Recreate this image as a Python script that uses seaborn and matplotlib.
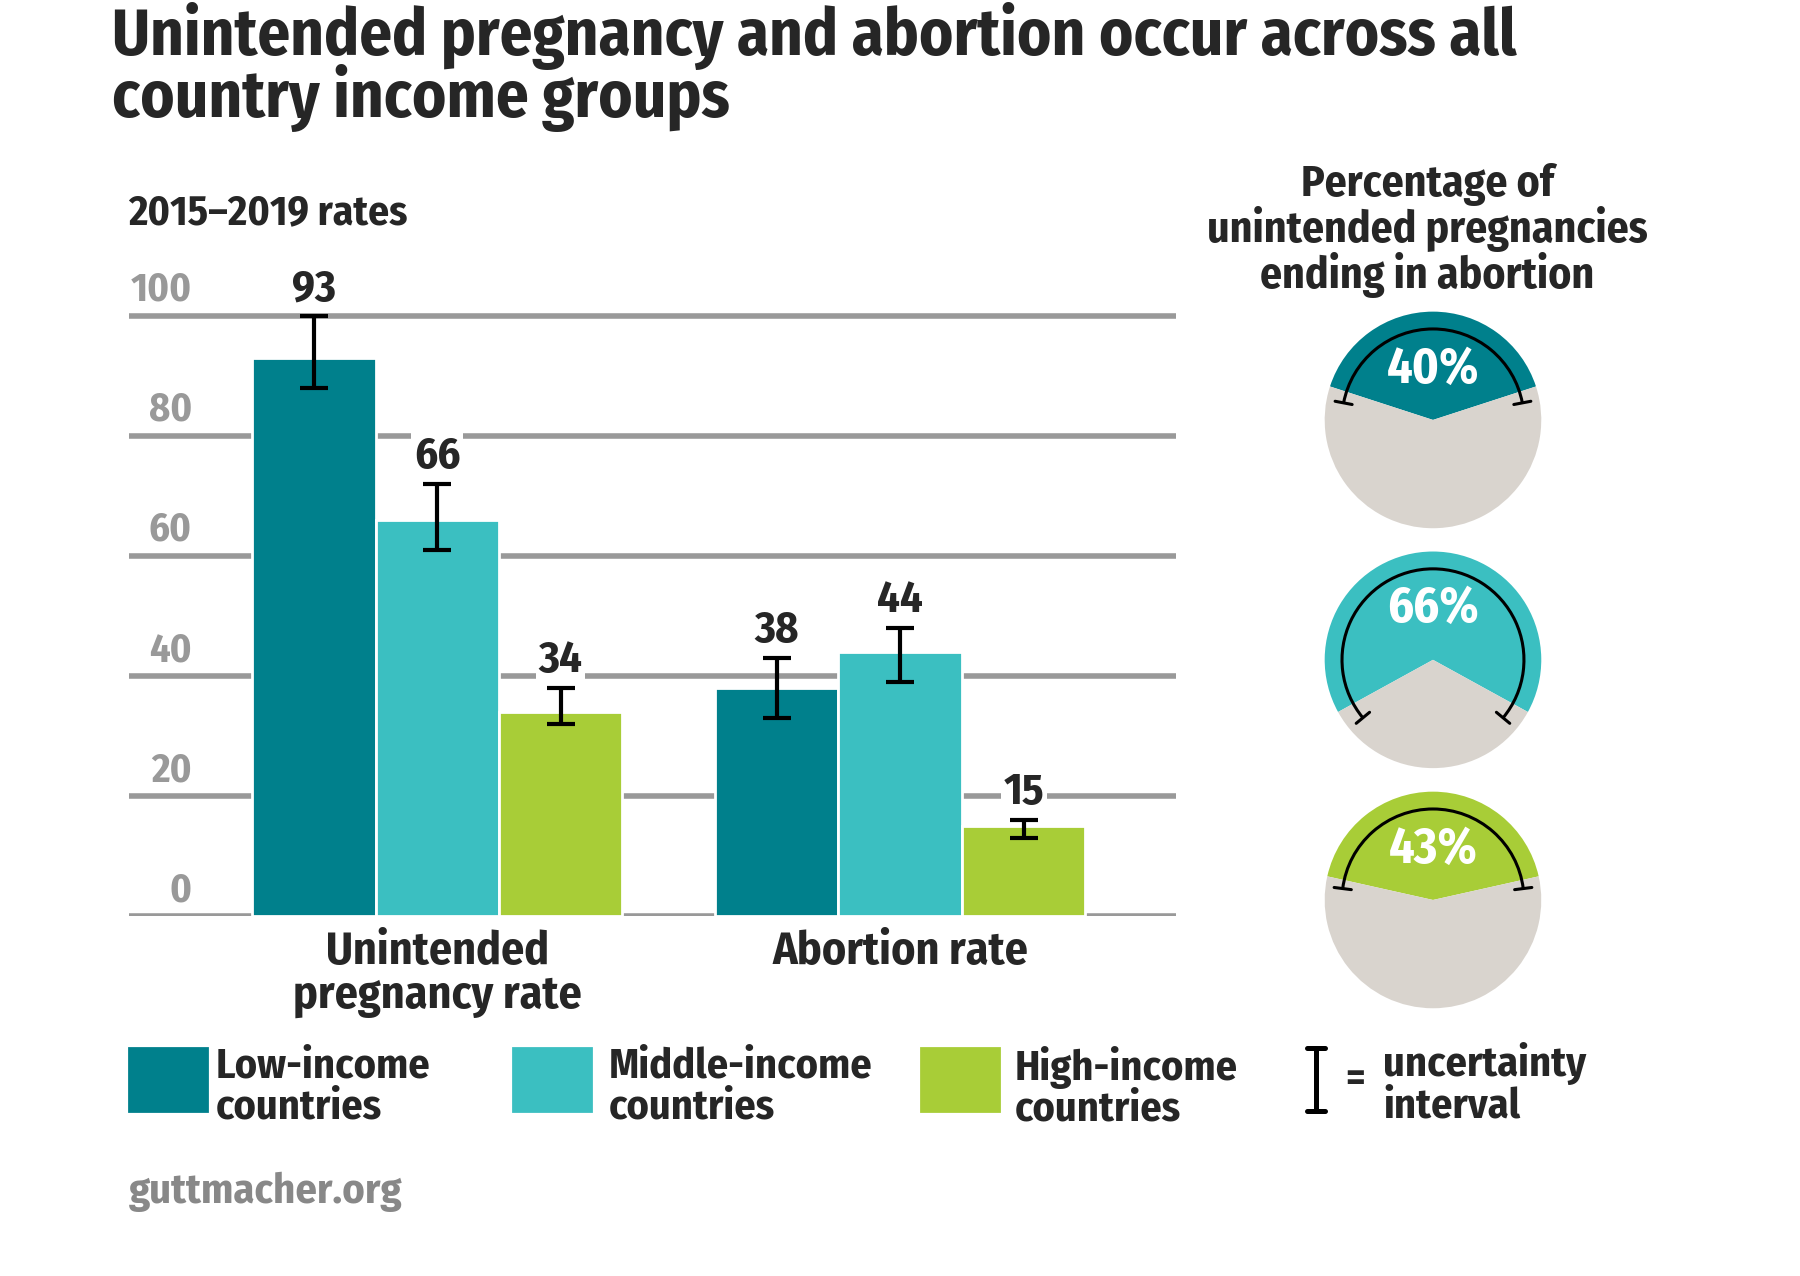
import numpy as np
import pandas as pd
import matplotlib
matplotlib.use('Agg')
import matplotlib.pyplot as plt
import seaborn as sns
from matplotlib.patches import Rectangle, Arc
from matplotlib.lines import Line2D

# data
measures = ['Unintended\npregnancy rate', 'Abortion rate']
groups = ['Low-income countries', 'Middle-income countries', 'High-income countries']
legend_labels = ['Low-income\ncountries', 'Middle-income\ncountries', 'High-income\ncountries']
unintended_rate = [93, 66, 34]
unintended_lo = [88, 61, 32]
unintended_hi = [100, 72, 38]
abortion_rate = [38, 44, 15]
abortion_lo = [33, 39, 13]
abortion_hi = [43, 48, 16]
pct_abortion = [40, 66, 43]
pct_ui_hi = [44, 72, 46]
y_ticks = [0, 20, 40, 60, 80, 100]

colors = ['#00808c', '#3bbfc1', '#a8cd37']
pie_bg = '#d9d4ce'
grid_c = '#999999'

df = pd.DataFrame({
    'measure': [m for m in measures for _ in groups],
    'group': groups * 2,
    'rate': unintended_rate + abortion_rate,
    'lo': unintended_lo + abortion_lo,
    'hi': unintended_hi + abortion_hi,
})

sns.set_style('white')
plt.rcParams['font.family'] = ['Fira Sans Condensed', 'DejaVu Sans']
plt.rcParams['font.weight'] = 'bold'

fig = plt.figure(figsize=(9, 6.38), dpi=200)
ax = fig.add_axes([0.0714, 0.2821, 0.5817, 0.5173])

sns.barplot(data=df, x='measure', y='rate', hue='group', hue_order=groups,
            palette=colors, saturation=1, errorbar=None, legend=False,
            width=0.8, edgecolor='white', linewidth=1, zorder=2, ax=ax)
bar_conts = list(ax.containers)

for v in y_ticks:
    ax.axhline(v, color=grid_c, lw=2, zorder=1)
    ax.text(-0.53, v + 2.5, str(v), ha='right', va='baseline',
            color=grid_c, fontsize=14.5, fontweight='bold')

# error bars + value labels
for i, cont in enumerate(bar_conts):
    for j, bar in enumerate(cont):
        row = df[(df['group'] == groups[i]) & (df['measure'] == measures[j])].iloc[0]
        x = bar.get_x() + bar.get_width() / 2
        ax.errorbar(x, row['rate'], yerr=[[row['rate'] - row['lo']], [row['hi'] - row['rate']]],
                    color='black', lw=1.5, capsize=5, capthick=1.5, zorder=3)
        ax.text(x, row['hi'] + 1, str(row['rate']), ha='center', va='bottom',
                fontsize=16, fontweight='bold', zorder=4,
                bbox=dict(fc='white', ec='none', pad=1))

ax.set_xlim(-0.667, 1.595)
ax.set_ylim(0, 110)
ax.set_yticks([])
ax.set_xlabel('')
ax.set_ylabel('')
ax.tick_params(axis='x', length=0, pad=5)
for t in ax.get_xticklabels():
    t.set_fontsize(16.5)
    t.set_fontweight('bold')
    t.set_linespacing(1.0)
sns.despine(ax=ax, left=True, bottom=True)

# titles
fig.text(0.062, 0.957, 'Unintended pregnancy and abortion occur across all',
         fontsize=23.3, fontweight='bold', va='baseline')
fig.text(0.062, 0.908, 'country income groups', fontsize=23.3, fontweight='bold', va='baseline')
fig.text(0.0714, 0.8245, '2015\u20132019 rates', fontsize=15, fontweight='bold', va='baseline')
fig.text(0.793, 0.872, 'Percentage of\nunintended pregnancies\nending in abortion',
         fontsize=15.7, fontweight='bold', ha='center', va='top', linespacing=1.0)

# pies
pie_bottoms = [0.569, 0.381, 0.1928]
for k in range(3):
    pax = fig.add_axes([0.7239, pie_bottoms[k], 0.1444, 0.2038])
    p = pct_abortion[k]
    pax.pie([p, 100 - p], colors=[colors[k], pie_bg], startangle=90 - p * 1.8,
            counterclock=True, radius=1, wedgeprops=dict(linewidth=0))
    half = pct_ui_hi[k] * 1.8
    ra = 0.84
    pax.add_patch(Arc((0, 0), 2 * ra, 2 * ra, theta1=90 - half, theta2=90 + half,
                      color='black', lw=1.1))
    for ang in [90 - half, 90 + half]:
        a = np.deg2rad(ang)
        pax.plot([0.76 * np.cos(a), 0.92 * np.cos(a)], [0.76 * np.sin(a), 0.92 * np.sin(a)],
                 color='black', lw=1.1)
    pax.text(0, 0.47, f'{p}%', ha='center', va='center', color='white',
             fontsize=18, fontweight='bold')
    pax.set_xlim(-1.2, 1.2)
    pax.set_ylim(-1.2, 1.2)
    pax.set_aspect('equal')
    pax.axis('off')

# legend
patch_x = [0.0714, 0.285, 0.5115]
text_x = [0.12, 0.338, 0.5638]
for k in range(3):
    fig.add_artist(Rectangle((patch_x[k], 0.1293), 0.0434, 0.0494,
                             transform=fig.transFigure, color=colors[k]))
    fig.text(text_x[k], 0.18, legend_labels[k], fontsize=15.2, fontweight='bold',
             va='top', linespacing=1.0)

ux = 0.731
fig.add_artist(Line2D([ux, ux], [0.1293, 0.1787], transform=fig.transFigure, color='black', lw=1.8))
for yy in [0.1293, 0.1787]:
    fig.add_artist(Line2D([ux - 0.005, ux + 0.005], [yy, yy], transform=fig.transFigure,
                          color='black', lw=1.8))
fig.text(0.753, 0.154, '=', fontsize=15, fontweight='bold', va='center', ha='center')
fig.text(0.7685, 0.183, 'uncertainty\ninterval', fontsize=15.2, fontweight='bold',
         va='top', linespacing=1.0)

fig.text(0.0714, 0.057, 'guttmacher.org', fontsize=15.3, fontweight='bold',
         color='#888888', va='baseline')

fig.savefig('out.png', dpi=200)
